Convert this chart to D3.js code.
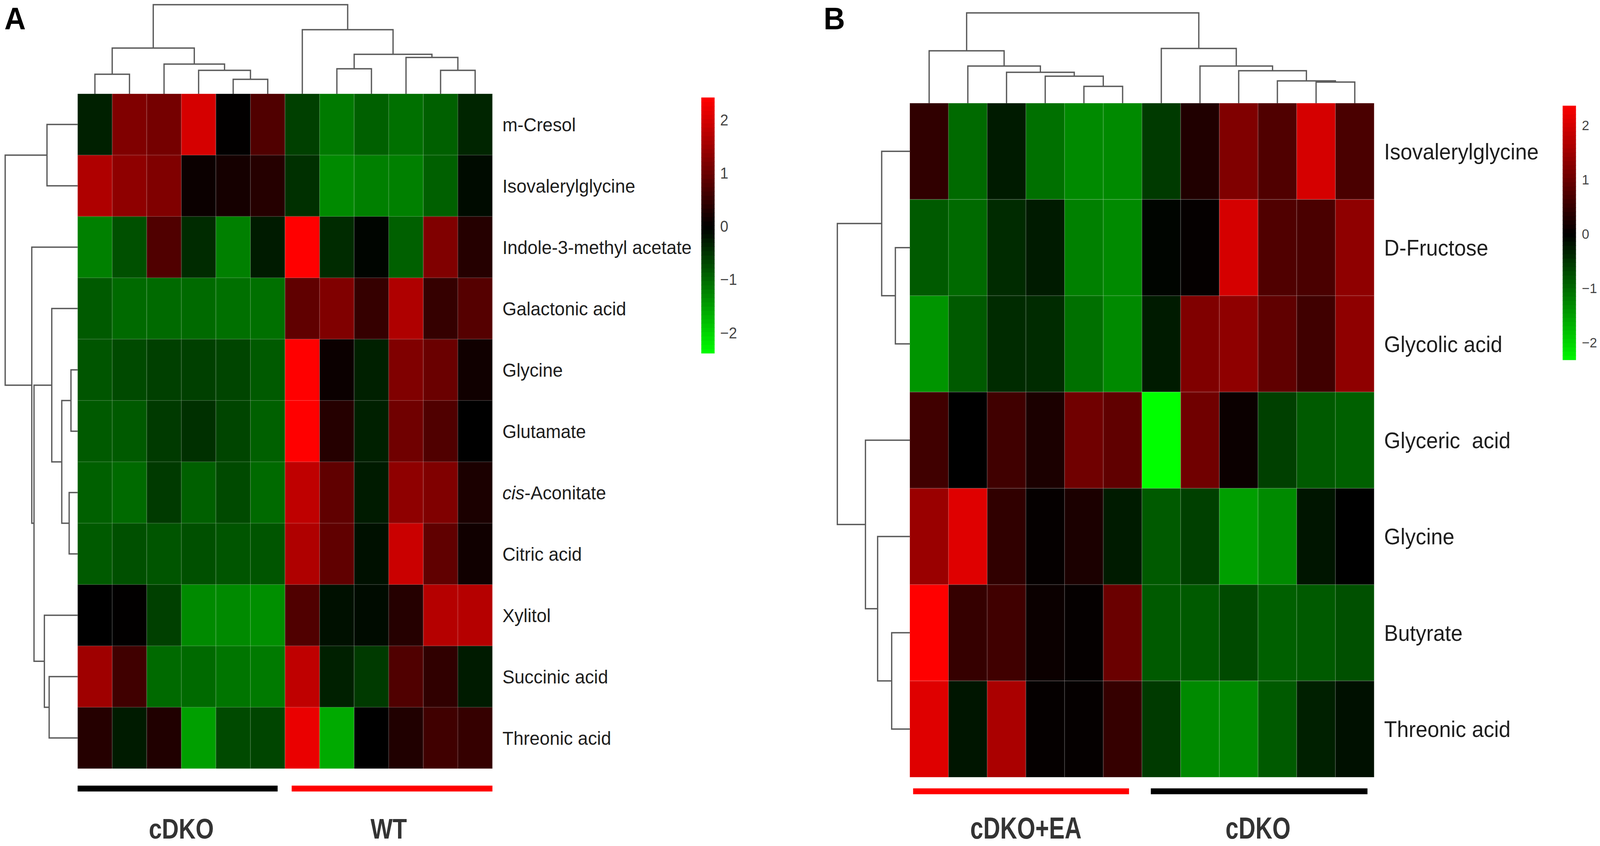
<!DOCTYPE html>
<html>
<head>
<meta charset="utf-8">
<script src="https://cdnjs.cloudflare.com/ajax/libs/d3/7.8.5/d3.min.js"></script>
<style>
  html, body { margin: 0; padding: 0; background: #fff; width: 100%; height: 100%; overflow: hidden; }
  svg { display: block; font-family: "Liberation Sans", Arial, sans-serif; }
</style>
</head>
<body>
<svg id="chart" width="100%" height="100%" viewBox="0 0 4328 2165" preserveAspectRatio="none"></svg>
<script>
// ---------- data: panel A ----------
var rowsA = ["m-Cresol", "Isovalerylglycine", "Indole-3-methyl acetate", "Galactonic acid",
             "Glycine", "Glutamate", "cis-Aconitate", "Citric acid", "Xylitol",
             "Succinic acid", "Threonic acid"];
var groupsA = ["cDKO", "WT"];
var groupSizesA = [6, 6];
var valuesA = [
  [-0.30,  1.20,  1.10,  2.00,  0.02,  0.75, -0.60, -1.15, -0.90, -1.05, -0.90, -0.35],
  [ 1.65,  1.35,  1.20,  0.10,  0.20,  0.35, -0.45, -1.30, -1.20, -1.20, -0.90, -0.10],
  [-1.20, -0.75,  0.75, -0.40, -1.20, -0.25,  2.40, -0.40, -0.05, -0.90,  1.20,  0.35],
  [-0.85, -1.00, -1.00, -1.00, -1.05, -1.05,  0.90,  1.20,  0.50,  1.65,  0.50,  0.80],
  [-0.80, -0.70, -0.60, -0.60, -0.65, -0.85,  2.40,  0.10, -0.30,  1.20,  1.00,  0.15],
  [-0.85, -0.85, -0.55, -0.45, -0.65, -0.90,  2.40,  0.35, -0.30,  1.05,  0.75,  0.00],
  [-0.90, -1.00, -0.55, -0.90, -0.70, -1.00,  1.80,  0.90, -0.25,  1.35,  1.20,  0.25],
  [-0.85, -0.75, -0.80, -0.75, -0.80, -0.80,  1.65,  0.90, -0.15,  1.90,  0.90,  0.15],
  [ 0.00,  0.02, -0.60, -1.30, -1.30, -1.35,  0.75, -0.15, -0.10,  0.35,  1.70,  1.70],
  [ 1.50,  0.60, -1.00, -1.00, -1.10, -1.15,  1.80, -0.30, -0.55,  0.75,  0.45, -0.25],
  [ 0.35, -0.25,  0.30, -1.50, -0.70, -0.65,  2.20, -1.60,  0.00,  0.30,  0.60,  0.50]
];
// dendrograms as [mergeHeight, left, right]; leaves are row / column indices
var rowTreeA = [10, [4.23, 0, 1],
                    [6.33, 2, [6.02, [3.57, 3, [2.19, [0.92, 4, 5], [1.17, 6, 7]]],
                                     [4.59, 8, [3.93, 9, 10]]]]];
var colTreeA = [10, [5.13, [2.19, 0, 1], [3.33, 2, [2.63, 3, [1.62, 4, 5]]]],
                    [7.19, 6, [4.43, [2.81, 7, 8], [4.08, 9, [2.63, 10, 11]]]]];

// ---------- data: panel B ----------
var rowsB = ["Isovalerylglycine", "D-Fructose", "Glycolic acid", "Glyceric  acid",
             "Glycine", "Butyrate", "Threonic acid"];
var groupsB = ["cDKO+EA", "cDKO"];
var groupSizesB = [6, 6];
var valuesB = [
  [ 0.45, -1.00, -0.25, -1.05, -1.30, -1.30, -0.55,  0.30,  1.20,  0.75,  2.00,  0.70],
  [-0.85, -1.00, -0.40, -0.25, -1.20, -1.30, -0.05,  0.05,  2.00,  0.75,  0.70,  1.35],
  [-1.40, -0.85, -0.40, -0.40, -1.05, -1.30, -0.25,  1.20,  1.35,  0.90,  0.60,  1.35],
  [ 0.60,  0.00,  0.60,  0.25,  1.05,  0.90, -2.40,  1.05,  0.10, -0.60, -0.85, -0.90],
  [ 1.45,  2.10,  0.45,  0.05,  0.25, -0.25, -0.85, -0.60, -1.50, -1.30, -0.20,  0.00],
  [ 2.40,  0.50,  0.60,  0.10,  0.05,  1.00, -0.85, -0.85, -0.70, -0.90, -0.85, -0.75],
  [ 2.10, -0.20,  1.60,  0.05,  0.05,  0.50, -0.55, -1.30, -1.30, -0.85, -0.30, -0.15]
];
var rowTreeB = [10, [3.88, 0, [1.99, 1, 2]], [6.12, 3, [4.44, 4, [2.5, 5, 6]]]];
var colTreeB = [10, [5.8, 0, [4.11, 1, [3.42, 2, [2.99, 3, [1.86, 4, 5]]]]],
                    [6.06, 6, [4.11, 7, [3.59, 8, [2.47, 9, [2.34, 10, 11]]]]]];

var legendTicks = [-2, -1, 0, 1, 2];
var italicPrefix = {"cis-Aconitate": "cis"};

// ---------- drawing ----------
var svg = d3.select("#chart");
var color = d3.scaleLinear()
    .domain([-2.4, 0, 2.4])
    .range(["#00ff00", "#000000", "#ff0000"])
    .clamp(true);

// walk a tree, collect the elbow segments, return the node position/height
function walk(node, segs) {
  if (typeof node === "number") return {pos: node, h: 0};
  var a = walk(node[1], segs), b = walk(node[2], segs);
  segs.push({p0: a.pos, h0: a.h, p1: b.pos, h1: b.h, h: node[0]});
  return {pos: (a.pos + b.pos) / 2, h: node[0]};
}

function drawPanel(p) {
  var g = svg.append("g");
  var nr = p.values.length, nc = p.values[0].length;
  var x = d3.scaleLinear().domain([0, nc]).range([p.left, p.right]);
  var y = d3.scaleLinear().domain([0, nr]).range([p.top, p.bottom]);

  // cells
  var cells = [];
  p.values.forEach(function(row, r) {
    row.forEach(function(v, c) { cells.push({r: r, c: c, v: v}); });
  });
  g.selectAll("rect.cell").data(cells).enter().append("rect")
      .attr("class", "cell")
      .attr("x", function(d) { return x(d.c); })
      .attr("y", function(d) { return y(d.r); })
      .attr("width", x(1) - x(0))
      .attr("height", y(1) - y(0))
      .attr("fill", function(d) { return color(d.v); })
      .attr("stroke", "rgba(255,255,255,0.13)")
      .attr("stroke-width", 2);

  // column dendrogram (top)
  var csegs = [];
  walk(p.colTree, csegs);
  var hy = d3.scaleLinear().domain([0, 10]).range([p.top, p.colRootY]);
  g.selectAll("path.cden").data(csegs).enter().append("path")
      .attr("class", "cden")
      .attr("d", function(s) {
        return "M" + x(s.p0 + 0.5) + "," + hy(s.h0) + "V" + hy(s.h) +
               "H" + x(s.p1 + 0.5) + "V" + hy(s.h1);
      })
      .attr("fill", "none").attr("stroke", "#5a5a5a").attr("stroke-width", 3.5);

  // row dendrogram (left)
  var rsegs = [];
  walk(p.rowTree, rsegs);
  var hx = d3.scaleLinear().domain([0, 10]).range([p.left, p.rowRootX]);
  g.selectAll("path.rden").data(rsegs).enter().append("path")
      .attr("class", "rden")
      .attr("d", function(s) {
        return "M" + hx(s.h0) + "," + y(s.p0 + 0.5) + "H" + hx(s.h) +
               "V" + y(s.p1 + 0.5) + "H" + hx(s.h1);
      })
      .attr("fill", "none").attr("stroke", "#5a5a5a").attr("stroke-width", 3.5);

  // row labels
  var lab = g.selectAll("text.rlab").data(p.rows).enter().append("text")
      .attr("class", "rlab")
      .attr("x", p.right + p.labelGap)
      .attr("y", function(d, i) { return y(i + 0.5); })
      .attr("dy", "0.36em")
      .attr("font-size", p.labelSize)
      .attr("fill", "#1e1e1e")
      .style("white-space", "pre");
  lab.each(function(d) {
    var t = d3.select(this), pre = italicPrefix[d];
    if (pre) {
      t.append("tspan").attr("font-style", "italic").text(pre);
      t.append("tspan").text(d.slice(pre.length));
    } else {
      t.text(d);
    }
  });

  // colour key
  var ly = d3.scaleLinear().domain(p.keyDomain).range([p.keyBottom, p.keyTop]);
  var step = (p.keyDomain[1] - p.keyDomain[0]) / 60;
  var steps = d3.range(p.keyDomain[0], p.keyDomain[1] - step / 2, step);
  g.selectAll("rect.key").data(steps).enter().append("rect")
      .attr("class", "key")
      .attr("x", p.keyX)
      .attr("width", 36)
      .attr("y", function(v) { return ly(v + step) - 0.5; })
      .attr("height", ly(0) - ly(step) + 1)
      .attr("fill", function(v) { return color(v + step / 2); });
  var ax = g.append("g")
      .attr("transform", "translate(" + (p.keyX + 36) + ",0)")
      .call(d3.axisRight(ly).tickValues(legendTicks).tickFormat(d3.format("d"))
              .tickSize(0).tickPadding(p.keyPad));
  ax.select(".domain").remove();
  ax.selectAll("text")
      .attr("font-size", p.keySize)
      .attr("font-family", "Liberation Sans, Arial, sans-serif")
      .attr("fill", "#444");

  // group bars and labels
  var start = 0;
  p.groups.forEach(function(name, i) {
    var end = start + p.groupSizes[i];
    g.append("rect")
        .attr("x", x(start) + p.barInset[i][0])
        .attr("width", x(end) - x(start) - p.barInset[i][0] - p.barInset[i][1])
        .attr("y", p.barY - 7.5)
        .attr("height", 15)
        .attr("fill", p.barColors[i]);
    g.append("text")
        .attr("transform", "translate(" + x((start + end) / 2) + "," + p.groupLabelY +
              ") scale(0.88," + p.groupStretch + ")")
        .attr("text-anchor", "middle")
        .attr("font-size", 72)
        .attr("font-weight", "bold")
        .attr("fill", "#333")
        .text(name);
    start = end;
  });

  // panel letter
  svg.append("text")
      .attr("x", p.letterX).attr("y", 75)
      .attr("font-size", 80).attr("font-weight", "bold").attr("fill", "#000")
      .text(p.letter);
}

drawPanel({
  letter: "A", letterX: 12,
  rows: rowsA, values: valuesA, rowTree: rowTreeA, colTree: colTreeA,
  groups: groupsA, groupSizes: groupSizesA,
  left: 210, right: 1332, top: 240, bottom: 1967,
  colRootY: 12, rowRootX: 14,
  labelGap: 27, labelSize: 49,
  keyX: 1897, keyTop: 250, keyBottom: 904, keyDomain: [-2.38, 2.42],
  keyPad: 15, keySize: 40,
  barY: 2018, barColors: ["#000000", "#ff0000"], barInset: [[0, 20], [18, 0]],
  groupLabelY: 2146, groupStretch: 1
});

drawPanel({
  letter: "B", letterX: 2228,
  rows: rowsB, values: valuesB, rowTree: rowTreeB, colTree: colTreeB,
  groups: groupsB, groupSizes: groupSizesB,
  left: 2461, right: 3717, top: 264, bottom: 1989,
  colRootY: 33, rowRootX: 2265,
  labelGap: 27, labelSize: 57,
  keyX: 4227, keyTop: 271, keyBottom: 921, keyDomain: [-2.32, 2.36],
  keyPad: 16, keySize: 36,
  barY: 2025, barColors: ["#ff0000", "#000000"], barInset: [[9, 35], [24, 18]],
  groupLabelY: 2146, groupStretch: 1.08
});
</script>
</body>
</html>
